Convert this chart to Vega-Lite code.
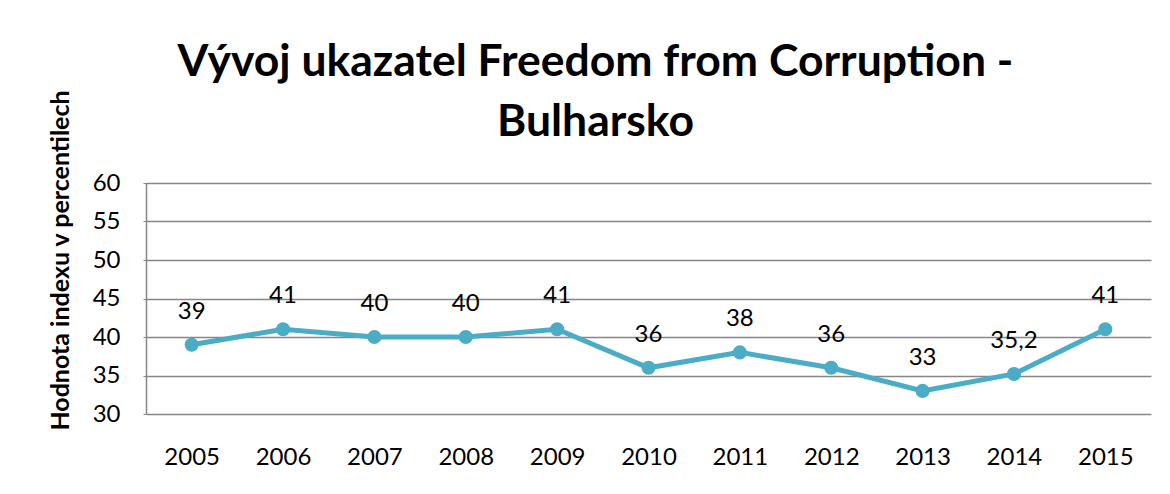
{
  "$schema": "https://vega.github.io/schema/vega-lite/v6.json",
  "autosize": {"type": "none"},
  "width": 1005,
  "height": 231,
  "padding": {"left": 146, "top": 183, "right": 19, "bottom": 80},
  "background": "white",
  "title": {
    "text": ["Vývoj ukazatel Freedom from Corruption -", "Bulharsko"],
    "font": "Lato",
    "fontSize": 44.5,
    "fontWeight": "bold",
    "color": "#000000",
    "anchor": "middle",
    "frame": "group",
    "dx": -53,
    "lineHeight": 60,
    "offset": -56
  },
  "data": {
    "values": [
      {"year": "2005", "value": 39, "label": "39"},
      {"year": "2006", "value": 41, "label": "41"},
      {"year": "2007", "value": 40, "label": "40"},
      {"year": "2008", "value": 40, "label": "40"},
      {"year": "2009", "value": 41, "label": "41"},
      {"year": "2010", "value": 36, "label": "36"},
      {"year": "2011", "value": 38, "label": "38"},
      {"year": "2012", "value": 36, "label": "36"},
      {"year": "2013", "value": 33, "label": "33"},
      {"year": "2014", "value": 35.2, "label": "35,2"},
      {"year": "2015", "value": 41, "label": "41"}
    ]
  },
  "encoding": {
    "x": {
      "field": "year",
      "type": "ordinal",
      "scale": {"type": "point", "padding": 0.5},
      "axis": {
        "title": null,
        "labelAngle": 0,
        "labelFont": "Lato",
        "labelFontSize": 24,
        "labelColor": "#000000",
        "labelPadding": 31,
        "ticks": false,
        "domain": false
      }
    },
    "y": {
      "field": "value",
      "type": "quantitative",
      "scale": {"domain": [30, 60], "nice": false, "zero": false},
      "axis": {
        "values": [30, 35, 40, 45, 50, 55, 60],
        "title": "Hodnota indexu v percentilech",
        "titleFont": "Lato",
        "titleFontSize": 25,
        "titleFontWeight": "bold",
        "titleColor": "#000000",
        "titleX": -86,
        "titleY": 77,
        "titleAngle": -90,
        "titleAlign": "center",
        "titleBaseline": "middle",
        "labelFont": "Lato",
        "labelFontSize": 24,
        "labelColor": "#000000",
        "labelPadding": 23,
        "ticks": true,
        "tickSize": 3,
        "tickColor": "#868686",
        "domain": true,
        "domainColor": "#868686",
        "domainWidth": 1.5,
        "grid": true,
        "gridColor": "#868686",
        "gridWidth": 1.5
      }
    }
  },
  "layer": [
    {
      "mark": {"type": "line", "color": "#4BACC6", "strokeWidth": 5}
    },
    {
      "mark": {"type": "point", "filled": true, "opacity": 1, "color": "#4BACC6", "size": 200}
    },
    {
      "mark": {"type": "text", "font": "Lato", "fontSize": 24, "color": "#000000", "dy": -33, "baseline": "middle"},
      "encoding": {"text": {"field": "label"}}
    }
  ],
  "config": {"view": {"stroke": null}}
}
